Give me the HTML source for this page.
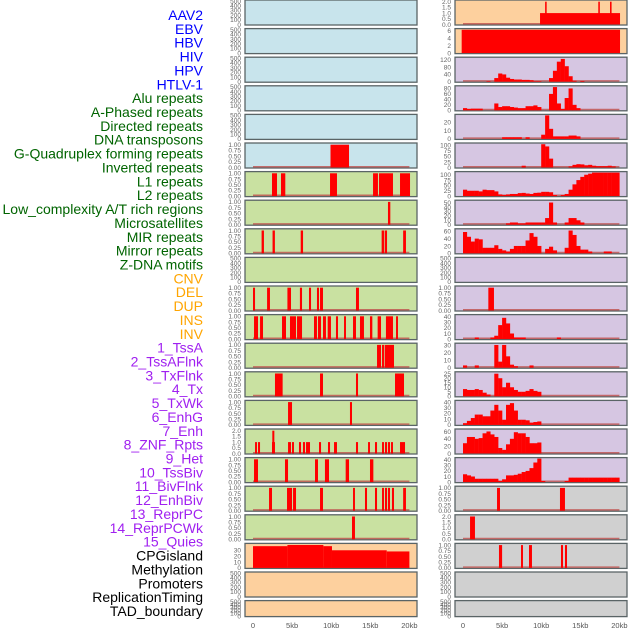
<!DOCTYPE html>
<html><head><meta charset="utf-8"><style>
html,body{margin:0;padding:0;background:#fff;}
svg{display:block;font-family:"Liberation Sans",sans-serif;}
</style></head><body>
<svg id="chart" width="630" height="630" viewBox="0 0 630 630"></svg>
<script>
const labels=["AAV2","EBV","HBV","HIV","HPV","HTLV-1","Alu repeats","A-Phased repeats","Directed repeats","DNA transposons","G-Quadruplex forming repeats","Inverted repeats","L1 repeats","L2 repeats","Low_complexity A/T rich regions","Microsatellites","MIR repeats","Mirror repeats","Z-DNA motifs","CNV","DEL","DUP","INS","INV","1_TssA","2_TssAFlnk","3_TxFlnk","4_Tx","5_TxWk","6_EnhG","7_Enh","8_ZNF_Rpts","9_Het","10_TssBiv","11_BivFlnk","12_EnhBiv","13_ReprPC","14_ReprPCWk","15_Quies","CPGisland","Methylation","Promoters","ReplicationTiming","TAD_boundary"];
const labelGroups=[0,0,0,0,0,0,1,1,1,1,1,1,1,1,1,1,1,1,1,2,2,2,2,2,3,3,3,3,3,3,3,3,3,3,3,3,3,3,3,4,4,4,4,4];
const groupColors=["#0000ff","#006400","#ffa500","#a020f0","#000000"];
const xTickKb=[0,5,10,15,20];
const xTickLabels=["0","5kb","10kb","15kb","20kb"];
// interval tracks [startKb,endKb,(height)]
const gquadL=[[9.91,12.28]];
const r6L=[[2.43,3.07],[3.58,4.13],[9.85,10.74],[15.35,15.98],[16.11,17.9],[18.8,20.08]];
const r7L=[[17.26,17.56]];
const r8L=[[1.1,1.4],[2.5,2.8],[6.1,6.4],[16.45,16.75],[16.84,17.14],[19.2,19.56]];
const r10L=[[0,0.26],[1.8,2.17],[4.4,4.86],[6.0,6.27],[7.16,7.42],[8.18,8.44],[8.57,8.95],[13.17,13.55]];
const r11L=[[0.13,0.64],[0.9,1.28],[3.71,4.22],[4.73,5.5],[5.63,6.27],[7.8,8.18],[8.31,8.7],[8.95,9.33],[9.55,9.97],[10.61,10.87],[11.64,11.89],[12.79,13.17],[13.68,14.19],[14.96,15.26],[15.94,16.37],[17.0,17.9],[18.29,18.54]];
const r12L=[[15.86,16.37],[16.5,16.75],[16.84,18.03]];
const r13L=[[2.81,3.79],[8.57,8.95],[13.17,13.43],[18.16,19.31]];
const r14L=[[4.48,4.99],[12.4,12.66]];
const r15L=[[0.26,0.51,1],[0.64,0.9,1],[2.43,2.81,1],[2.47,2.73,2],[4.48,4.86,1],[4.99,5.24,1],[5.88,6.14,1],[6.39,6.65,1],[6.78,7.29,1],[8.44,8.7,1],[9.59,9.85,1],[10.36,10.74,1],[13.17,13.43,1],[14.71,14.96,1],[15.6,15.86,1],[16.5,16.75,1],[16.88,17.14,1],[17.26,17.52,1],[17.65,17.9,1],[18.8,19.44,1]];
const r16L=[[0.13,0.64],[4.09,4.48],[7.93,8.31],[9.2,9.72],[11.85,12.28],[14.96,15.39]];
const r17L=[[2.05,2.43],[4.35,4.99],[5.12,5.5],[8.57,8.95],[12.79,13.04],[14.32,14.58],[15.6,15.86],[16.5,16.75],[16.88,17.14],[17.26,17.52],[17.77,18.03],[19.2,19.56]];
const r18L=[[12.66,13.04]];
const cpgL=[[0,4.4,37],[4.4,9,39],[9,10.1,37],[10.1,17.1,30],[17.1,20,28]];
const r0R=[[9.85,20.08,1],[10.5,10.7,2],[17.3,17.5,2],[18.8,19.0,2]];
const r1R=[[-0.17,20.08,6.3]];
const r10R=[[3.24,3.96]];
const r17R=[[4.35,4.73],[12.4,13.04]];
const r18R=[[0.9,1.53,2]];
const r19R=[[4.6,5.0],[7.42,7.67],[8.44,8.82],[12.53,12.79],[13.04,13.3]];
// binned histogram tracks (0.5kb bins)
const r2R=[0,0,0,0,0,0,3,0,20,45,40,22,15,12,12,10,10,8,3,3,0,0,20,60,110,125,85,30,5,0,4,0,0,0,0,0,0,0,0,0];
const r3R=[8,5,6,6,6,0,0,0,25,12,15,15,12,10,8,8,15,15,18,12,0,0,60,85,25,5,45,80,20,8,0,0,0,0,0,0,0,0,0,0];
const r4R=[0,0,0,0,0,0,0,0,0,0,2,2,2,2,2,0,2,0,0,0,5,28,12,3,3,3,3,4,4,3,0,0,0,0,0,0,0,0,0,0];
const r5R=[0,0,0,0,0,0,0,0,0,0,0,0,0,0,0,8,0,0,0,0,105,95,40,0,0,0,0,5,12,15,14,10,12,8,6,6,6,8,5,0];
const r6R=[30,25,25,25,22,30,28,28,22,8,5,8,10,10,14,15,12,10,15,16,20,20,18,5,0,5,10,30,55,75,90,100,105,110,110,110,110,110,110,110];
const r7R=[0,0,0,0,0,0,0,0,0,0,0,3,5,5,3,3,5,5,5,5,5,15,50,5,0,0,5,15,15,10,5,0,0,0,0,0,0,0,0,0];
const r8R=[58,45,32,40,38,15,15,15,22,12,8,5,12,20,20,20,35,55,45,20,0,12,18,8,0,0,15,62,50,20,10,10,5,0,0,0,5,5,0,0];
const r11R=[0,0,0,3,0,0,0,3,6,25,38,28,10,3,3,3,0,0,0,0,0,0,0,0,3,0,0,0,0,0,0,0,0,0,0,0,0,0,0,0];
const r12R=[3,0,0,3,0,0,0,0,30,8,30,15,4,2,0,0,0,3,0,0,0,0,0,0,0,0,0,0,0,0,0,0,0,0,0,0,0,0,0,0];
const r13R=[8,7,7,8,7,4,2,0,25,20,10,15,10,7,5,5,6,8,6,5,0,0,0,0,0,0,0,0,0,0,0,0,0,0,0,0,0,0,0,0];
const r14R=[3,7,12,18,18,15,15,25,35,25,9,35,38,25,9,9,8,4,5,6,0,0,0,0,0,0,0,0,0,0,0,0,0,0,0,0,0,0,0,0];
const r15R=[28,45,45,40,42,55,60,52,45,15,10,25,40,58,55,55,45,28,28,30,0,0,0,0,0,0,0,0,0,0,0,0,0,0,0,0,0,0,0,0];
const r16R=[14,12,10,6,6,6,6,6,6,2,5,12,12,13,15,18,20,25,35,42,2,0,0,0,0,0,2,8,8,8,8,8,8,8,8,8,8,8,8,8];
const tEmpty=[0,100,200,300,400,500];
const tUnit=[0,0.25,0.5,0.75,1];
const tTwo=[0,0.5,1,1.5,2];

const BG={b:"#c8e4ec",g:"#c9e1a1",p:"#fdd09e",v:"#d6c6e2",s:"#d0d0d0"};
const panels=[
 [0,0,"b","e"],[0,1,"b","e"],[0,2,"b","e"],[0,3,"b","e"],[0,4,"b","e"],
 [0,5,"b","i",gquadL,1.03,tUnit,2],
 [0,6,"g","i",r6L,1.03,tUnit,2],[0,7,"g","i",r7L,1.03,tUnit,2],[0,8,"g","i",r8L,1.03,tUnit,2],
 [0,9,"g","e"],
 [0,10,"g","i",r10L,1.03,tUnit,2],[0,11,"g","i",r11L,1.03,tUnit,2],[0,12,"g","i",r12L,1.03,tUnit,2],
 [0,13,"g","i",r13L,1.03,tUnit,2],[0,14,"g","i",r14L,1.03,tUnit,2],[0,15,"g","i",r15L,2.06,tTwo,1],
 [0,16,"g","i",r16L,1.03,tUnit,2],[0,17,"g","i",r17L,1.03,tUnit,2],[0,18,"g","i",r18L,1.03,tUnit,2],
 [0,19,"p","i",cpgL,40,[0,10,20,30],0],[0,20,"p","e"],[0,21,"p","e"],
 [1,0,"p","i",r0R,2.06,tTwo,1],[1,1,"p","i",r1R,6.35,[0,2,4,6],0],
 [1,2,"v","h",r2R,129,[0,40,80,120],0],[1,3,"v","h",r3R,86,[0,20,40,60,80],0],
 [1,4,"v","h",r4R,28,[0,10,20],0],[1,5,"v","h",r5R,106,[0,25,50,75,100],0],
 [1,6,"v","h",r6R,110,[0,25,50,75,100],0],[1,7,"v","h",r7R,53,[0,10,20,30,40,50],0],
 [1,8,"v","h",r8R,64,[0,20,40,60],0],[1,9,"v","e"],
 [1,10,"v","i",r10R,1.03,tUnit,2],[1,11,"v","h",r11R,42,[0,10,20,30,40],0],
 [1,12,"v","h",r12R,31,[0,10,20,30],0],[1,13,"v","h",r13R,26,[0,5,10,15,20,25],0],
 [1,14,"v","h",r14R,41,[0,10,20,30,40],0],[1,15,"v","h",r15R,64,[0,20,40,60],0],
 [1,16,"v","h",r16R,42,[0,10,20,30,40],0],
 [1,17,"s","i",r17R,1.03,tUnit,2],[1,18,"s","i",r18R,2.06,tTwo,1],[1,19,"s","i",r19R,1.03,tUnit,2],
 [1,20,"s","e"],[1,21,"s","e"]
];
const svg=document.getElementById("chart");
const NS="http://www.w3.org/2000/svg";
function mk(tag,attrs,parent){const e=document.createElementNS(NS,tag);for(const k in attrs)e.setAttribute(k,attrs[k]);(parent||svg).appendChild(e);return e;}
function xScale(col,kb){return (col?463:253)+kb*7.82;}
function rowTop(r){return r*28.6;}
function rowH(r){return r===21?16:25;}
// labels
labels.forEach((t,i)=>{
 const e=mk("text",{x:203,y:20+i*13.86,"text-anchor":"end","font-size":"14",fill:groupColors[labelGroups[i]]});
 e.textContent=t;
 
 
});
panels.forEach(p=>{
 const [col,row,bg,kind,data,ymax,ticks,dec]=p;
 const left=col?455:245,w=172,top=rowTop(row),h=rowH(row);
 const g=mk("g",{});
 
 
 mk("rect",{x:left,y:top,width:w,height:h,fill:BG[bg],stroke:"#5a6466","stroke-width":1.3},g);
 const y0=top+h-0.5,y1=top+1;
 const tk=kind==="e"?tEmpty:ticks, ym=kind==="e"?500:ymax;
 const ys=v=>y0-(v/ym)*(y0-y1);
 tk.forEach(v=>{
  const t=mk("text",{x:left-4,y:ys(v)+2.3,"text-anchor":"end","font-size":"6.5",fill:"#666"},g);
  t.textContent=kind==="e"?String(v):(dec?v.toFixed(dec):String(v));
  
  
 });
 if(kind==="e")return;
 mk("line",{x1:xScale(col,0),x2:xScale(col,20),y1:y0-0.8,y2:y0-0.8,stroke:"#c0504d","stroke-width":1.5,opacity:0.8},g);
 if(kind==="i"){
  data.forEach(d=>{
   const hv=d.length>2?d[2]:1;
   const r=mk("rect",{x:xScale(col,Math.max(d[0],-0.2)),y:ys(hv),width:Math.max(1.5,(d[1]-d[0])*7.82),height:y0-ys(hv),fill:"#ff0000"},g);
   
   
  });
 } else {
  data.forEach((v,i)=>{
   if(v<=0)return;
   const r=mk("rect",{x:xScale(col,i*0.5),y:ys(v),width:0.5*7.82+0.2,height:y0-ys(v),fill:"#ff0000"},g);
   
   
  });
 }
});
[0,1].forEach(col=>{
 xTickKb.forEach((kb,i)=>{
  const t=mk("text",{x:xScale(col,kb),y:628,"text-anchor":"middle","font-size":"7.5",fill:"#555"});
  t.textContent=xTickLabels[i];
  
  
 });
});
</script>
</body></html>
